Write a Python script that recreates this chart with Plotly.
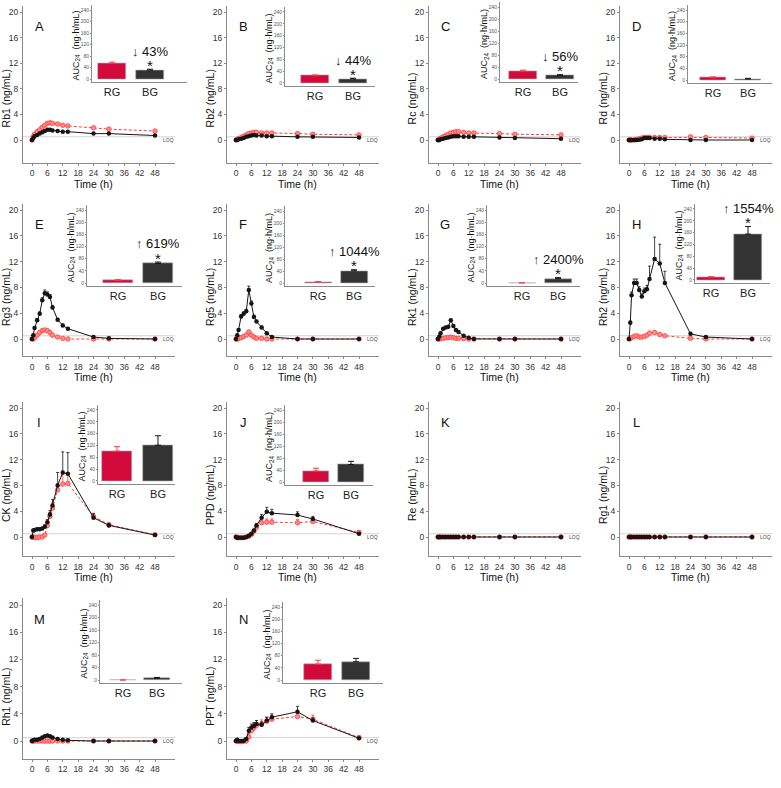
import plotly.graph_objects as go

# ---------------- data ----------------
TIME = [0, 0.5, 1, 2, 3, 4, 5, 6, 7, 8, 10, 12, 14, 24, 30, 48]
X_TICKS = [0, 6, 12, 18, 24, 30, 36, 42, 48]
Y_TICKS = [0, 4, 8, 12, 16, 20]
AUC_TICKS = [0, 40, 80, 120, 160, 200, 240]
GROUPS = ["RG", "BG"]

LETTERS = ["A", "B", "C", "D", "E", "F", "G", "H", "I", "J", "K", "L", "M", "N"]
NAMES = ["Rb1", "Rb2", "Rc", "Rd", "Rg3", "Rg5", "Rk1", "Rh2", "CK", "PPD", "Re", "Rg1", "Rh1", "PPT"]

RB1_BG = [0, 0.3, 0.6, 0.8, 1.0, 1.2, 1.4, 1.6, 1.6, 1.5, 1.4, 1.3, 1.3, 1.0, 1.0, 0.7]
RB1_RG = [0, 0.5, 0.9, 1.3, 1.6, 2.0, 2.3, 2.6, 2.7, 2.6, 2.5, 2.3, 2.2, 1.9, 1.7, 1.4]
RB2_BG = [0, 0, 0.1, 0.2, 0.3, 0.5, 0.6, 0.7, 0.8, 0.7, 0.7, 0.6, 0.6, 0.5, 0.5, 0.4]
RB2_RG = [0, 0.1, 0.2, 0.4, 0.6, 0.8, 1.0, 1.1, 1.2, 1.2, 1.1, 1.1, 1.1, 1.0, 0.9, 0.8]
RC_BG = [0, 0, 0.1, 0.2, 0.3, 0.4, 0.5, 0.6, 0.6, 0.6, 0.5, 0.5, 0.5, 0.4, 0.3, 0.2]
RC_RG = [0, 0.1, 0.3, 0.5, 0.7, 0.9, 1.1, 1.2, 1.3, 1.3, 1.2, 1.1, 1.1, 1.0, 0.9, 0.8]
RD_BG = [0, 0, 0, 0, 0, 0.05, 0.1, 0.3, 0.3, 0.3, 0.2, 0.2, 0.1, 0, 0, 0]
RD_RG = [0, 0, 0, 0, 0.1, 0.2, 0.3, 0.4, 0.4, 0.4, 0.4, 0.4, 0.4, 0.5, 0.4, 0.3]
RG3_BG = [0, 0.6, 1.7, 2.9, 3.9, 6.0, 7.1, 6.9, 6.5, 4.9, 3.0, 2.1, 1.6, 0.3, 0.1, 0]
RG3_BG_ERR = [0, 0.1, 0.2, 0.3, 0.3, 0.4, 0.5, 0.4, 0.4, 0.3, 0.2, 0.2, 0.1, 0.1, 0, 0]
RG3_RG = [0, 0, 0.2, 0.6, 1.0, 1.3, 1.4, 1.3, 1.0, 0.6, 0.3, 0.1, 0, 0, 0, 0]
RG5_BG = [0, 0.6, 1.4, 3.5, 3.9, 4.3, 7.6, 5.5, 3.4, 2.7, 1.8, 0.9, 0.3, 0, 0, 0]
RG5_BG_ERR = [0, 0.1, 0.2, 0.3, 0.3, 0.3, 0.6, 0.4, 0.3, 0.2, 0.2, 0.1, 0.1, 0, 0, 0]
RG5_RG = [0, 0, 0.1, 0.2, 0.4, 0.6, 1.1, 0.6, 0.3, 0.1, 0.1, 0, 0, 0, 0, 0]
RK1_BG = [0, 0.4, 0.9, 1.6, 1.8, 1.9, 2.9, 2.0, 1.4, 1.1, 0.5, 0.2, 0, 0, 0, 0]
RK1_RG = [0, 0, 0.1, 0.1, 0.2, 0.2, 0.3, 0.2, 0.1, 0.1, 0.05, 0, 0, 0, 0, 0]
RH2_BG = [0, 2.5, 6.8, 8.7, 8.7, 7.6, 6.6, 7.4, 7.7, 9.3, 12.4, 11.7, 8.7, 0.8, 0.3, 0]
RH2_BG_ERR = [0, 0.3, 0.5, 0.6, 0.6, 0.5, 0.4, 0.5, 0.6, 2.0, 3.4, 3.0, 1.8, 0.1, 0.1, 0]
RH2_RG = [0, 0.1, 0.2, 0.4, 0.5, 0.3, 0.3, 0.4, 0.6, 0.9, 1.0, 0.7, 0.5, 0.1, 0, 0]
RH2_RG_ERR = [0, 0, 0, 0.1, 0.1, 0.1, 0.1, 0.1, 0.1, 0.3, 0.3, 0.2, 0.1, 0, 0, 0]
CK_BG = [0, 1.0, 1.1, 1.2, 1.2, 1.3, 1.6, 2.3, 3.5, 4.9, 8.0, 10.0, 9.8, 3.0, 1.8, 0.3]
CK_BG_ERR = [0, 0.2, 0.2, 0.2, 0.2, 0.2, 0.3, 0.4, 0.6, 0.9, 2.0, 3.2, 3.3, 0.6, 0.3, 0.1]
CK_RG = [0, 0, -0.1, -0.1, 0, 0, 0.3, 1.8, 3.2, 4.5, 7.3, 8.2, 8.3, 3.2, 1.9, 0.35]
CK_RG_ERR = [0, 0, 0, 0, 0, 0, 0.2, 0.4, 0.6, 0.8, 1.0, 1.5, 1.5, 0.5, 0.3, 0.1]
PPD_BG = [0, -0.1, -0.1, -0.1, -0.1, 0, 0.2, 0.5, 1.0, 1.8, 3.0, 3.9, 3.7, 3.4, 2.8, 0.5]
PPD_BG_ERR = [0, 0, 0, 0, 0, 0, 0.1, 0.1, 0.2, 0.3, 0.5, 0.7, 0.6, 0.5, 0.4, 0.2]
PPD_RG = [0, -0.1, -0.1, -0.1, -0.1, 0, 0.1, 0.4, 0.9, 1.5, 2.2, 2.3, 2.3, 2.2, 2.4, 0.7]
PPD_RG_ERR = [0, 0, 0, 0, 0, 0, 0.1, 0.1, 0.2, 0.3, 0.4, 0.5, 0.5, 0.5, 0.4, 0.3]
RE_BG = [0, 0, 0, 0, 0, 0, 0, 0, 0, 0, 0, 0, 0, 0, 0, 0]
RE_RG = [0, 0, 0, 0, 0, 0, 0, 0, 0, 0, 0, 0, 0, 0, 0, 0]
RG1_BG = [0, 0, 0, 0, 0, 0, 0, 0, 0, 0, 0, 0, 0, 0, 0, 0]
RG1_RG = [0, 0, 0, 0, 0, 0, 0, 0, 0, 0, 0, 0, 0, 0, 0, 0]
RH1_BG = [0, 0.1, 0.2, 0.2, 0.3, 0.5, 0.7, 0.8, 0.7, 0.5, 0.3, 0.2, 0.1, 0, 0, 0]
RH1_RG = [0, 0, 0, 0, 0, 0, 0, 0, 0, 0, 0, 0, 0, 0, 0, 0]
PPT_BG = [0, 0.2, 0, 0, 0, 0.3, 1.5, 2.0, 2.2, 2.5, 2.4, 3.0, 3.5, 4.3, 3.0, 0.4]
PPT_BG_ERR = [0, 0.1, 0, 0, 0, 0.2, 0.5, 0.5, 0.5, 0.5, 0.4, 0.5, 0.5, 0.8, 0.4, 0.1]
PPT_RG = [0, 0, -0.1, -0.1, 0, 0, 0.6, 1.5, 1.9, 2.3, 2.5, 2.9, 3.2, 3.6, 3.2, 0.5]
PPT_RG_ERR = [0, 0, 0, 0, 0, 0, 0.5, 0.6, 0.7, 0.7, 0.6, 0.6, 0.6, 0.5, 0.6, 0.3]

BG_SERIES = [RB1_BG, RB2_BG, RC_BG, RD_BG, RG3_BG, RG5_BG, RK1_BG, RH2_BG, CK_BG, PPD_BG, RE_BG, RG1_BG, RH1_BG, PPT_BG]
RG_SERIES = [RB1_RG, RB2_RG, RC_RG, RD_RG, RG3_RG, RG5_RG, RK1_RG, RH2_RG, CK_RG, PPD_RG, RE_RG, RG1_RG, RH1_RG, PPT_RG]
BG_ERRORS = [None, None, None, None, RG3_BG_ERR, RG5_BG_ERR, None, RH2_BG_ERR, CK_BG_ERR, PPD_BG_ERR, None, None, None, PPT_BG_ERR]
RG_ERRORS = [None, None, None, None, None, None, None, RH2_RG_ERR, CK_RG_ERR, PPD_RG_ERR, None, None, None, PPT_RG_ERR]

AUC_RG = [54.5, 24.5, 26.5, 8, 8.9, 3.6, 0.6, 9.4, 101, 37, None, None, 0, 52]
AUC_RG_ERR = [4, 3, 3, 3, 2, 0.8, 0.3, 2, 15, 9, None, None, 0, 13]
AUC_BG = [31, 13.7, 11.7, 3.4, 64, 40.7, 14.3, 155, 121, 58, None, None, 5.3, 60]
AUC_BG_ERR = [3, 2.5, 2.5, 2.3, 5, 3.5, 3.3, 26, 32, 11, None, None, 3, 11]
AUC_NOTE = ["↓ 43%", "↓ 44%", "↓ 56%", "", "↑ 619%", "↑ 1044%", "↑ 2400%", "↑ 1554%",
            "", "", "", "", "", ""]
LOQ = 0.5

# ---------------- layout geometry (pixels) ----------------
W, H = 781, 788
COL_X0 = [32, 236, 438, 629]          # pixel of t = 0 h
PX_PER_H = 2.5625
ROW_Y0 = [140, 339, 537, 741]         # pixel of conc = 0
ROW_SCALE = [6.4, 6.45, 6.45, 6.8]    # px per ng/mL
ROW_BOTTOM = [-3.6, -2.7, -3.0, -2.6]
Y_TOP = 21
X_LEFT, X_RIGHT = -3.5, 55.8
# inset: axis px, right-end px, RG centre px, BG centre px, y0 px, y240 px
INSET_GEOM = [
    (92, 187, 112, 150, 79, 10), (285, 375, 315, 353, 83, 12),
    (500, 578, 523, 560, 79, 7), (688, 772, 713, 748, 80, 10),
    (87, 182, 118, 158, 283, 210), (285, 375, 318, 354, 283, 211),
    (487, 580, 522, 558, 283, 210), (695, 770, 711, 748, 280, 209),
    (98, 175, 117, 158, 481, 410), (285, 373, 316, 351, 482, 410),
    None, None,
    (100, 182, 123, 157, 680, 605), (283, 383, 318, 356, 680, 607),
]

FONT = "Liberation Sans, Arial, sans-serif"
AX_COLOR = "#8a8a8a"
BLACK = "#151515"
RED_LINE = "#ff3b3b"
RED_FILL = "#ff8c8c"
RG_BAR = "#d20a3c"
BG_BAR = "#333333"


def fx(px):
    return px / W


def fy(py):
    return 1 - py / H


def note(**kw):
    d = dict(showarrow=False, xanchor="center", yanchor="middle")
    d.update(kw)
    return d


fig = go.Figure()
layout = {}
annotations = []
shapes = []
n = 0


def axname(k):
    return "" if k == 1 else str(k)


for i in range(14):
    r, c = divmod(i, 4)
    n += 1
    k = axname(n)
    x0 = COL_X0[c]
    y0, s, yb = ROW_Y0[r], ROW_SCALE[r], ROW_BOTTOM[r]
    xd = [fx(x0 + X_LEFT * PX_PER_H), fx(x0 + X_RIGHT * PX_PER_H)]
    yd = [fy(y0 - yb * s), fy(y0 - Y_TOP * s)]
    layout["xaxis" + k] = dict(
        domain=xd, range=[X_LEFT, X_RIGHT], anchor="y" + k, tickvals=X_TICKS,
        showline=True, linecolor=AX_COLOR, linewidth=1, ticks="outside", ticklen=2,
        tickcolor=AX_COLOR, showgrid=False, zeroline=False,
        tickfont=dict(size=8.5, color="#333", family=FONT))
    layout["yaxis" + k] = dict(
        domain=yd, range=[yb, Y_TOP], anchor="x" + k, tickvals=Y_TICKS,
        showline=True, linecolor=AX_COLOR, linewidth=1, ticks="outside", ticklen=2,
        tickcolor=AX_COLOR, showgrid=False, zeroline=False,
        tickfont=dict(size=8.5, color="#333", family=FONT))

    # LOQ line
    shapes.append(dict(type="line", xref="x" + k, yref="y" + k, x0=X_LEFT, x1=X_RIGHT,
                       y0=LOQ, y1=LOQ, line=dict(color="#d2d2d2", width=1), layer="below"))
    annotations.append(note(xref="x" + k, yref="y" + k, x=50.5, y=0, text="LOQ",
                            xanchor="left", font=dict(size=5, color="#444", family=FONT)))

    rge = RG_ERRORS[i]
    bge = BG_ERRORS[i]
    fig.add_trace(go.Scatter(
        x=TIME, y=RG_SERIES[i], xaxis="x" + k, yaxis="y" + k, mode="lines+markers",
        line=dict(color=RED_LINE, width=1, dash="3px,2px"),
        marker=dict(size=4.5, color=RED_FILL, line=dict(color=RED_LINE, width=0.8)),
        error_y=(dict(type="data", array=rge, symmetric=False, arrayminus=[0] * len(rge),
                      color=RED_LINE, thickness=0.8, width=1.5) if rge else None),
        showlegend=False, hoverinfo="skip"))
    fig.add_trace(go.Scatter(
        x=TIME, y=BG_SERIES[i], xaxis="x" + k, yaxis="y" + k, mode="lines+markers",
        line=dict(color=BLACK, width=1),
        marker=dict(size=4.5, color=BLACK),
        error_y=(dict(type="data", array=bge, symmetric=False, arrayminus=[0] * len(bge),
                      color=BLACK, thickness=0.8, width=1.5) if bge else None),
        showlegend=False, hoverinfo="skip"))

    # panel letter
    annotations.append(note(xref="x" + k, yref="y" + k, x=2.9, y=17.8, text=LETTERS[i],
                            font=dict(size=13, color="#111", family=FONT)))
    # y title
    annotations.append(note(xref="paper", yref="y" + k, x=fx(x0 - 26), y=6.5,
                            text=NAMES[i] + " (ng/mL)", textangle=-90,
                            font=dict(size=10.5, color="#111", family=FONT)))
    # x title (bottom row is cut off in the reference)
    if r < 3:
        annotations.append(note(xref="x" + k, yref="paper", x=24,
                                y=fy(y0 - yb * s + 21), text="Time (h)",
                                font=dict(size=10.5, color="#111", family=FONT)))

    # ---------- inset ----------
    g = INSET_GEOM[i]
    if g is None:
        continue
    ax_px, end_px, rg_px, bg_px, a0, a240 = g
    sp = bg_px - rg_px
    ascale = (a0 - a240) / 240.0
    n += 1
    ki = axname(n)
    layout["xaxis" + ki] = dict(
        domain=[fx(ax_px), fx(end_px)],
        range=[(ax_px - rg_px) / sp, (end_px - rg_px) / sp], anchor="y" + ki,
        tickvals=[0, 1], ticktext=GROUPS, ticks="", showline=True, linecolor=AX_COLOR,
        linewidth=1, showgrid=False, zeroline=False,
        tickfont=dict(size=11, color="#222", family=FONT))
    layout["yaxis" + ki] = dict(
        domain=[fy(a0 + 9 * ascale), fy(a240 - 16 * ascale)], range=[-9, 256],
        anchor="x" + ki, tickvals=AUC_TICKS, showline=True, linecolor=AX_COLOR,
        linewidth=1, ticks="outside", ticklen=1, tickcolor=AX_COLOR, showgrid=False,
        zeroline=False, tickfont=dict(size=5, color="#555", family=FONT))
    fig.add_trace(go.Bar(
        x=[0], y=[AUC_RG[i]], width=0.75, xaxis="x" + ki, yaxis="y" + ki,
        marker=dict(color=RG_BAR, line=dict(color="#b0b0b0", width=0.6)),
        error_y=dict(type="data", array=[AUC_RG_ERR[i]], symmetric=False, arrayminus=[0],
                     color=RED_LINE, thickness=1, width=3),
        showlegend=False, hoverinfo="skip"))
    fig.add_trace(go.Bar(
        x=[1], y=[AUC_BG[i]], width=0.75, xaxis="x" + ki, yaxis="y" + ki,
        marker=dict(color=BG_BAR, line=dict(color="#b0b0b0", width=0.6)),
        error_y=dict(type="data", array=[AUC_BG_ERR[i]], symmetric=False, arrayminus=[0],
                     color=BLACK, thickness=1, width=3),
        showlegend=False, hoverinfo="skip"))
    annotations.append(note(xref="paper", yref="paper", x=fx(ax_px - 16),
                            y=fy((a0 + a240) / 2 + 1),
                            text="AUC<sub>24</sub>  (ng·h/mL)", textangle=-90,
                            font=dict(size=9, color="#111", family=FONT)))
    if AUC_NOTE[i]:
        top = AUC_BG[i] + AUC_BG_ERR[i]
        annotations.append(note(xref="x" + ki, yref="y" + ki, x=1, y=top + 13, text="*",
                                font=dict(size=15, color="#111", family=FONT)))
        annotations.append(note(xref="x" + ki, yref="y" + ki, x=1, y=top + 60,
                                text=AUC_NOTE[i],
                                font=dict(size=13, color="#111", family=FONT)))

layout.update(dict(
    width=W, height=H, autosize=False, margin=dict(l=0, r=0, t=0, b=0),
    paper_bgcolor="white", plot_bgcolor="white", bargap=0,
    annotations=annotations, shapes=shapes, showlegend=False,
    font=dict(family=FONT, color="#111")))
fig.update_layout(**layout)

fig.write_html("out.html", config={"displayModeBar": False},
               post_script="document.body.style.margin='0';")
